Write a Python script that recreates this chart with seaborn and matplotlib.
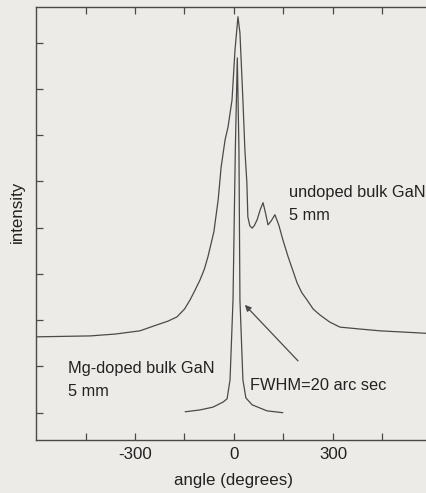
import numpy as np
import pandas as pd
import matplotlib
matplotlib.use("Agg")
import matplotlib.pyplot as plt
import seaborn as sns

# ---- data ----
undoped_angle = [-600, -436, -360, -285, -233, -200, -173, -150, -133, -118, -103, -90, -79, -61, -48,
                 -39, -27, -18, -6, 3, 12, 18, 27, 33, 39, 42, 48, 55, 62, 70, 80, 88, 96, 103,
                 113, 124, 136, 148, 164, 178, 191, 205, 221, 240, 261, 290, 321, 380, 442, 600]
undoped_int = [2.64, 2.66, 2.70, 2.77, 2.90, 2.98, 3.07, 3.24, 3.44, 3.65, 3.87, 4.10, 4.37, 4.91, 5.60,
               6.31, 6.90, 7.18, 7.76, 8.84, 9.56, 9.21, 7.76, 6.68, 5.97, 5.23, 5.04, 4.99, 5.05,
               5.17, 5.40, 5.54, 5.30, 5.06, 5.15, 5.28, 5.05, 4.74, 4.37, 4.08, 3.81, 3.60, 3.44,
               3.24, 3.11, 2.96, 2.85, 2.81, 2.77, 2.71]

mg_angle = [-148, -103, -64, -33, -21, -12, -3, 4, 10, 15, 18, 27, 36, 55, 100, 148]
mg_int = [1.02, 1.06, 1.12, 1.23, 1.30, 1.71, 3.44, 6.68, 8.67, 6.68, 3.44, 1.71, 1.32, 1.17, 1.04, 1.00]

xticks_major = [-300, 0, 300]
xtick_labels = ["-300", "0", "300"]
xticks_minor = [-450, -150, 150, 450]
yticks = [1, 2, 3, 4, 5, 6, 7, 8, 9]

df = pd.concat([
    pd.DataFrame({"angle": undoped_angle, "intensity": undoped_int, "sample": "undoped"}),
    pd.DataFrame({"angle": mg_angle, "intensity": mg_int, "sample": "Mg"}),
])

sns.set_style("ticks")
plt.rcParams["font.family"] = ["Liberation Sans", "DejaVu Sans"]

bg = "#ecebe7"
ink = "#4a4a4a"
W, H = 427, 493
fig = plt.figure(figsize=(W / 100, H / 100), dpi=100, facecolor=bg)
ax = fig.add_axes([36 / W, (H - 440) / H, 396 / W, 433 / H], facecolor=bg)

sns.lineplot(data=df, x="angle", y="intensity", units="sample", estimator=None,
             color=ink, linewidth=0.9, sort=False, ax=ax, legend=False)

ax.set_xlim(-600, 600)
ax.set_ylim(0.41, 9.77)
ax.set_xticks(xticks_major)
ax.set_xticklabels(xtick_labels)
ax.set_xticks(xticks_minor, minor=True)
ax.set_yticks(yticks)
ax.set_yticklabels([])
ax.tick_params(axis="both", which="both", direction="in", length=5, width=0.9,
               color=ink, top=True, right=False, labelsize=12.2, labelcolor="#222222", pad=5)
for s in ax.spines.values():
    s.set_color(ink)
    s.set_linewidth(1.0)
ax.set_xlabel("")
ax.set_ylabel("")

fig.text(17 / W, 1 - 212 / H, "intensity", rotation=90, ha="center", va="center",
         fontsize=12.2, color="#222222")
fig.text(234 / W, 1 - 480 / H, "angle (degrees)", ha="center", va="center",
         fontsize=12.2, color="#222222")

tkw = dict(fontsize=11.8, color="#222222", va="center", ha="left")
fig.text(289 / W, 1 - 192 / H, "undoped bulk GaN", **tkw)
fig.text(289 / W, 1 - 215 / H, "5 mm", **tkw)
fig.text(68 / W, 1 - 368 / H, "Mg-doped bulk GaN", **tkw)
fig.text(68 / W, 1 - 391 / H, "5 mm", **tkw)
fig.text(250 / W, 1 - 385 / H, "FWHM=20 arc sec", **tkw)

ax.annotate("", xy=(33, 3.33), xytext=(194, 2.12),
            arrowprops=dict(arrowstyle="-|>", color=ink, lw=0.9, mutation_scale=9,
                            shrinkA=0, shrinkB=0))

fig.savefig("out.png", dpi=100, facecolor=bg)
